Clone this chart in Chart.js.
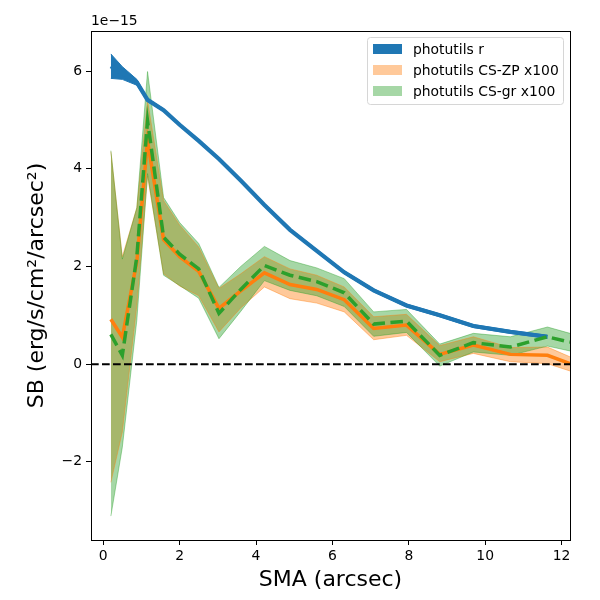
<!DOCTYPE html>
<html>
<head>
<meta charset="utf-8">
<script src="https://cdn.jsdelivr.net/npm/chart.js@4.4.1/dist/chart.umd.min.js"></script>
<style>
html,body{margin:0;padding:0;background:#fff;}
#wrap{width:600px;height:600px;}
</style>
</head>
<body>
<div id="wrap"><canvas id="c" width="600" height="600"></canvas></div>
<script>
// ---- data (SB in units of 1e-15 erg/s/cm^2/arcsec^2) ----
const SMA = [0.20,0.50,0.88,1.16,1.58,2.00,2.50,3.03,3.60,4.22,4.89,5.59,6.31,7.08,7.94,8.81,9.69,10.66,11.63,12.22];

const R_SB    = [6.10,5.95,5.77,5.41,5.20,4.90,4.57,4.20,3.76,3.26,2.75,2.32,1.88,1.51,1.20,1.00,0.78,0.66,0.56];
const R_UPPER = [6.35,6.09,5.83,5.44,5.23,4.93,4.60,4.23,3.79,3.29,2.78,2.35,1.91,1.54,1.23,1.03,0.81,0.69,0.59];
const R_LOWER = [5.85,5.83,5.71,5.38,5.17,4.87,4.54,4.17,3.73,3.23,2.72,2.29,1.85,1.48,1.17,0.97,0.75,0.63,0.53];

const ZP_SB    = [0.92,0.55,2.10,4.57,2.55,2.20,1.90,1.14,1.50,1.87,1.63,1.53,1.32,0.73,0.80,0.20,0.39,0.20,0.18,0.01];
const ZP_UPPER = [4.35,2.20,3.20,5.40,3.35,2.85,2.40,1.55,1.85,2.20,1.95,1.82,1.58,0.97,1.02,0.38,0.56,0.34,0.35,0.15];
const ZP_LOWER = [-2.42,-1.39,1.20,3.85,1.85,1.60,1.40,0.66,1.15,1.58,1.34,1.25,1.07,0.50,0.59,0.05,0.22,0.05,0.01,-0.14];

const GR_SB    = [0.61,0.18,2.20,4.98,2.60,2.25,1.95,1.04,1.53,2.02,1.82,1.69,1.46,0.82,0.88,0.18,0.44,0.35,0.56,0.45];
const GR_UPPER = [4.37,2.15,3.20,5.99,3.41,2.90,2.47,1.57,2.00,2.41,2.12,1.97,1.75,1.07,1.12,0.41,0.63,0.56,0.76,0.63];
const GR_LOWER = [-3.11,-1.70,0.90,3.90,1.82,1.61,1.35,0.52,1.08,1.71,1.51,1.40,1.18,0.57,0.65,-0.04,0.25,0.18,0.37,0.27];

const X_TICKS = [0,2,4,6,8,10,12];
const Y_TICKS = [-2,0,2,4,6];
const X_MIN = -0.32, X_MAX = 12.22;
const Y_MIN = -3.60, Y_MAX = 6.82;
const ZERO_LEVEL = 0;
const Y_OFFSET_TEXT = '1e\u221215';
const LEGEND_LABELS = ['photutils r','photutils CS-ZP x100','photutils CS-gr x100'];
const X_TITLE = 'SMA (arcsec)';
const Y_TITLE = 'SB (erg/s/cm\u00b2/arcsec\u00b2)';

// ---- styles ----
const BLUE = '#1f77b4', ORANGE = '#ff7f0e', GREEN = '#2ca02c';
const ORANGE_FILL = 'rgba(255,127,14,0.42)';
const GREEN_FILL = 'rgba(44,160,44,0.42)';
const FONT = 'DejaVu Sans';

const pts = (ys) => ys.map((y,i) => ({x: SMA[i], y}));

const lineBase = {pointRadius:0, tension:0, fill:false, showLine:true};

const datasets = [
  {...lineBase, label:'zero', data:[{x:X_MIN,y:ZERO_LEVEL},{x:X_MAX,y:ZERO_LEVEL}], borderColor:'#000', borderWidth:2, borderDash:[7.7,3.3]},
  {...lineBase, label:'gr', data:pts(GR_SB), borderColor:GREEN, borderWidth:3.5, borderDash:[12.5,5.5]},
  {...lineBase, label:'zp', data:pts(ZP_SB), borderColor:ORANGE, borderWidth:3.5},
  {...lineBase, label:'r', data:pts(R_SB), borderColor:BLUE, borderWidth:4.2},
  {...lineBase, label:'gr_up', data:pts(GR_UPPER), borderColor:GREEN_FILL, borderWidth:1, backgroundColor:GREEN_FILL, fill:'+1'},
  {...lineBase, label:'gr_lo', data:pts(GR_LOWER), borderColor:GREEN_FILL, borderWidth:1},
  {...lineBase, label:'zp_up', data:pts(ZP_UPPER), borderColor:ORANGE_FILL, borderWidth:1, backgroundColor:ORANGE_FILL, fill:'+1'},
  {...lineBase, label:'zp_lo', data:pts(ZP_LOWER), borderColor:ORANGE_FILL, borderWidth:1},
  {...lineBase, label:'r_up', data:pts(R_UPPER), borderColor:BLUE, borderWidth:1, backgroundColor:BLUE, fill:'+1'},
  {...lineBase, label:'r_lo', data:pts(R_LOWER), borderColor:BLUE, borderWidth:1},
];

const framePlugin = {
  id:'frame',
  afterDraw(chart){
    const {ctx, chartArea:a} = chart;
    ctx.save();
    ctx.strokeStyle = '#000';
    ctx.lineWidth = 1;
    ctx.strokeRect(Math.round(a.left)+0.5, Math.round(a.top)+0.5, Math.round(a.right-a.left), Math.round(a.bottom-a.top));
    // offset text
    ctx.fillStyle = '#000';
    ctx.font = '13.9px "' + FONT + '"';
    ctx.textAlign = 'left';
    ctx.textBaseline = 'bottom';
    ctx.fillText(Y_OFFSET_TEXT, a.left, a.top - 3);
    // legend
    const boxW = 196, boxH = 67;
    const x0 = a.right - 7 - boxW, y0 = a.top + 6;
    ctx.beginPath();
    if (ctx.roundRect) ctx.roundRect(x0+0.5, y0+0.5, boxW, boxH, 3); else ctx.rect(x0+0.5,y0+0.5,boxW,boxH);
    ctx.fillStyle = 'rgba(255,255,255,0.8)';
    ctx.fill();
    ctx.strokeStyle = '#d6d6d6';
    ctx.lineWidth = 1;
    ctx.stroke();
    const patchColors = [BLUE, ORANGE_FILL, GREEN_FILL];
    const rowsY = [12, 33, 54];
    ctx.textBaseline = 'middle';
    LEGEND_LABELS.forEach((lab, i) => {
      const cy = y0 + rowsY[i];
      ctx.fillStyle = '#fff';
      ctx.fillRect(x0+6, cy-5, 29, 10);
      ctx.fillStyle = patchColors[i];
      ctx.fillRect(x0+6, cy-5, 29, 10);
      ctx.fillStyle = '#000';
      ctx.fillText(lab, x0+46, cy+1);
    });
    ctx.restore();
  }
};

const tickFont = {family: FONT, size: 13.9};
const titleFont = {family: FONT, size: 22};

new Chart(document.getElementById('c'), {
  type:'scatter',
  data:{datasets},
  options:{
    responsive:false,
    devicePixelRatio:1,
    animation:false,
    events:[],
    layout:{padding:{left:0, right:30, top:31, bottom:0}},
    plugins:{
      legend:{display:false},
      tooltip:{enabled:false},
      filler:{drawTime:'beforeDatasetsDraw', propagate:false}
    },
    scales:{
      x:{
        type:'linear', min:X_MIN, max:X_MAX,
        afterBuildTicks(s){ s.ticks = X_TICKS.map(v=>({value:v})); },
        afterFit(s){ s.height = 60; },
        grid:{drawOnChartArea:false, drawTicks:true, tickLength:5, color:'#000', tickWidth:1},
        border:{display:true, color:'#000', width:1},
        ticks:{font:tickFont, color:'#000', padding:3, maxRotation:0, autoSkip:false, callback:v=>String(v)},
        title:{display:true, text:X_TITLE, font:titleFont, color:'#000', padding:{top:0,bottom:7}}
      },
      y:{
        type:'linear', min:Y_MIN, max:Y_MAX,
        afterBuildTicks(s){ s.ticks = Y_TICKS.map(v=>({value:v})); },
        afterFit(s){ s.width = 91; },
        grid:{drawOnChartArea:false, drawTicks:true, tickLength:5, color:'#000', tickWidth:1},
        border:{display:true, color:'#000', width:1},
        ticks:{font:tickFont, color:'#000', padding:4, autoSkip:false, callback:v=> v<0 ? '\u2212'+Math.abs(v) : String(v)},
        title:{display:true, text:Y_TITLE, font:titleFont, color:'#000', padding:{top:24,bottom:0}}
      }
    }
  },
  plugins:[framePlugin]
});
</script>
</body>
</html>
